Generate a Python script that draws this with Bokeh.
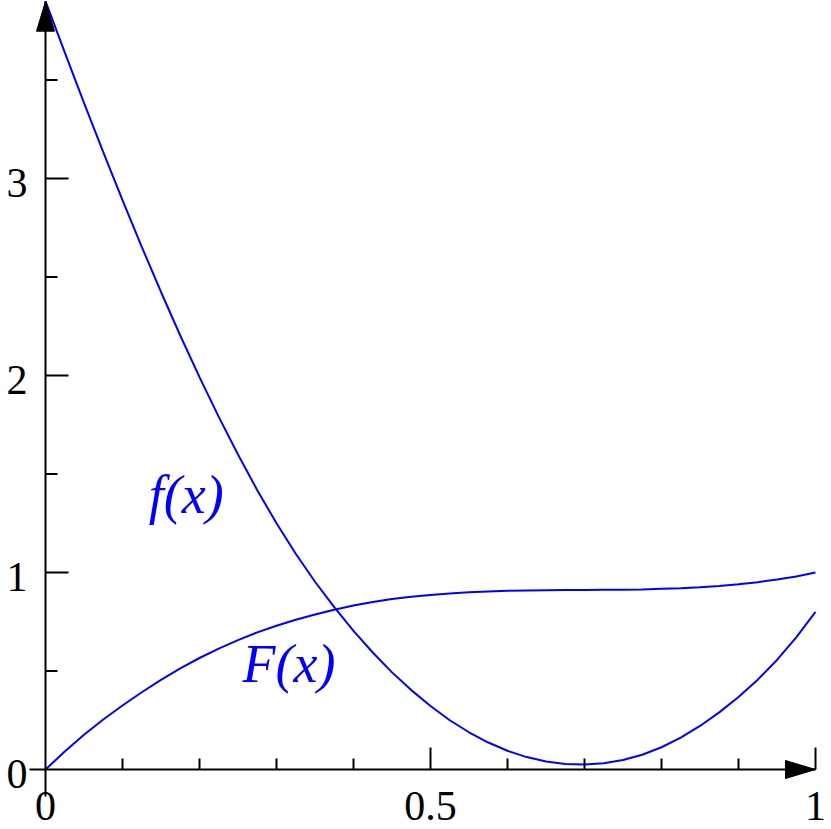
from bokeh.plotting import figure
from bokeh.models import Range1d, ColumnDataSource
from bokeh.embed import file_html
from bokeh.resources import INLINE
from bokeh.core.properties import value
import math

# ---- data ----
x_vals = [0.0, 0.025, 0.05, 0.075, 0.1, 0.125, 0.15, 0.175, 0.2, 0.225,
          0.25, 0.275, 0.3, 0.325, 0.35, 0.375, 0.4, 0.425, 0.45, 0.475,
          0.5, 0.525, 0.55, 0.575, 0.6, 0.625, 0.65, 0.675, 0.7, 0.725,
          0.75, 0.775, 0.8, 0.825, 0.85, 0.875, 0.9, 0.925, 0.95, 0.975, 1.0]
f_vals = [3.900, 3.640, 3.384, 3.134, 2.890, 2.653, 2.424, 2.203, 1.992, 1.790,
          1.599, 1.418, 1.250, 1.095, 0.953, 0.824, 0.704, 0.594, 0.493, 0.403,
          0.322, 0.250, 0.189, 0.137, 0.095, 0.063, 0.041, 0.028, 0.026, 0.032,
          0.048, 0.075, 0.113, 0.162, 0.221, 0.290, 0.368, 0.456, 0.556, 0.671, 0.800]
F_vals = [0.000, 0.091, 0.176, 0.254, 0.325, 0.392, 0.455, 0.513, 0.566, 0.614,
          0.657, 0.696, 0.730, 0.760, 0.787, 0.811, 0.832, 0.850, 0.865, 0.877,
          0.886, 0.894, 0.900, 0.904, 0.907, 0.909, 0.910, 0.911, 0.911, 0.912,
          0.913, 0.914, 0.917, 0.920, 0.925, 0.932, 0.940, 0.951, 0.964, 0.980, 1.000]

x_major_ticks = [0.5, 1.0]
x_minor_ticks = [0.1, 0.2, 0.3, 0.4, 0.6, 0.7, 0.8, 0.9]
x_label_pos = [0.0, 0.5, 1.0]
x_labels = ["0", "0.5", "1"]
y_major_ticks = [1, 2, 3]
y_minor_ticks = [0.5, 1.5, 2.5, 3.5]
y_label_pos = [0, 1, 2, 3]
y_labels = ["0", "1", "2", "3"]
y_top = 3.9
curve_labels = ["f(x)", "F(x)"]
curve_label_x = [0.134, 0.256]
curve_label_y = [1.391, 0.533]

# ---- layout ----
W, H = 831, 829
OX, OY = 45, 769           # pixel position of origin
SX, SY = 770.0, 197.0      # pixels per data unit

p = figure(width=W, height=H, output_backend="svg", toolbar_location=None,
           x_range=Range1d(-OX / SX, (W - OX) / SX),
           y_range=Range1d(-(H - OY) / SY, OY / SY),
           x_axis_type=None, y_axis_type=None, min_border=0,
           outline_line_color=None, background_fill_color="white",
           border_fill_color="white", margin=(0, 0, 0, 0))
p.xgrid.visible = False
p.ygrid.visible = False

BLUE = "#0000ff"
FONT = value("Liberation Serif")

# curves
src = ColumnDataSource(dict(x=x_vals, f=f_vals, F=F_vals))
p.line("x", "f", source=src, line_color=BLUE, line_width=2)
p.line("x", "F", source=src, line_color=BLUE, line_width=2)

# axes lines
p.segment(x0=[-16 / SX], y0=[0], x1=[1.0], y1=[0], line_color="black", line_width=2)
p.segment(x0=[0], y0=[-27 / SY], x1=[0], y1=[y_top], line_color="black", line_width=2)

# ticks
p.ray(x=x_major_ticks, y=[0] * len(x_major_ticks), length=22, length_units="screen",
      angle=math.pi / 2, line_color="black", line_width=2)
p.ray(x=x_minor_ticks, y=[0] * len(x_minor_ticks), length=11, length_units="screen",
      angle=math.pi / 2, line_color="black", line_width=2)
p.ray(x=[0] * len(y_major_ticks), y=y_major_ticks, length=23, length_units="screen",
      angle=0, line_color="black", line_width=2)
p.ray(x=[0] * len(y_minor_ticks), y=y_minor_ticks, length=12, length_units="screen",
      angle=0, line_color="black", line_width=2)

# arrow heads
AL, AW = 30, 9
p.patch(x=[1.0, 1.0 - AL / SX, 1.0 - AL / SX], y=[0, AW / SY, -AW / SY],
        fill_color="black", line_color="black", line_width=1)
p.patch(x=[0, -AW / SX, AW / SX], y=[y_top, y_top - AL / SY, y_top - AL / SY],
        fill_color="black", line_color="black", line_width=1)

# tick labels
p.text(x=x_label_pos, y=[0] * 3, text=x_labels, text_font=FONT, text_font_size="42px",
       text_align="center", text_baseline="middle", y_offset=36, text_color="black")
p.text(x=[0] * 4, y=y_label_pos, text=y_labels, text_font=FONT, text_font_size="42px",
       text_align="right", text_baseline="middle", x_offset=-18, y_offset=4,
       text_color="black")

# curve labels
p.text(x=curve_label_x, y=curve_label_y, text=curve_labels, text_font=FONT,
       text_font_size="54px", text_font_style="italic", text_align="left",
       text_baseline="middle", text_color=BLUE)

open("out.html", "w").write(file_html(p, INLINE))
